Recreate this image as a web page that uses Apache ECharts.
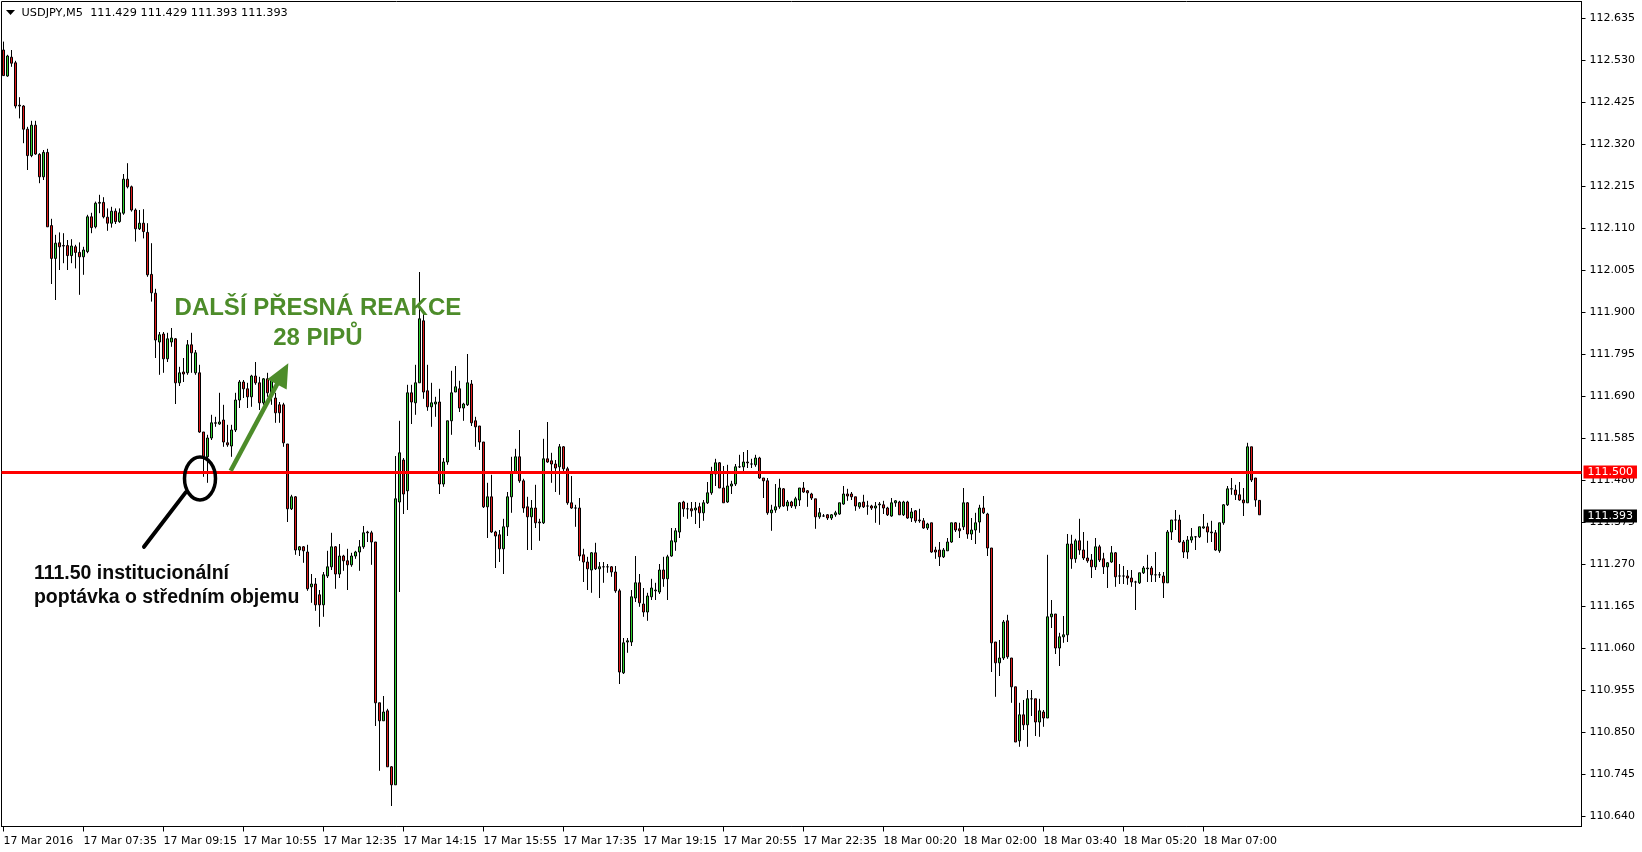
<!DOCTYPE html>
<html><head><meta charset="utf-8">
<script src="https://cdn.jsdelivr.net/npm/echarts@6/dist/echarts.min.js"></script>
<style>html,body{margin:0;padding:0;background:#fff}#chart{width:1642px;height:852px}</style>
</head><body><div id="chart"></div>
<script>
const symbolTitle = 'USDJPY,M5';
const tickLabels = ['17 Mar 2016','17 Mar 07:35','17 Mar 09:15','17 Mar 10:55','17 Mar 12:35','17 Mar 14:15','17 Mar 15:55','17 Mar 17:35','17 Mar 19:15','17 Mar 20:55','17 Mar 22:35','18 Mar 00:20','18 Mar 02:00','18 Mar 03:40','18 Mar 05:20','18 Mar 07:00'];
const priceTicks = [110.640,110.745,110.850,110.955,111.060,111.165,111.270,111.375,111.480,111.585,111.690,111.795,111.900,112.005,112.110,112.215,112.320,112.425,112.530,112.635];
const levelPrice = 111.500;

const openPrices = [
112.555,112.490,112.537,112.523,112.417,112.415,112.357,112.291,112.367,112.294,
112.238,112.299,112.116,112.034,112.073,112.066,112.066,112.041,112.063,112.049,
112.038,112.051,112.138,112.113,112.172,112.174,112.137,112.122,112.152,112.126,
112.147,112.232,112.213,112.155,112.108,112.122,112.099,111.994,111.947,111.825,
111.845,111.783,111.825,111.833,111.723,111.750,111.748,111.818,111.748,111.748,
111.600,111.538,111.585,111.623,111.620,111.630,111.573,111.565,111.605,111.680,
111.725,111.708,111.688,111.740,111.723,111.673,111.733,111.698,111.685,111.668,
111.668,111.570,111.408,111.438,111.305,111.313,111.300,111.213,111.220,111.193,
111.168,111.240,111.263,111.313,111.245,111.290,111.278,111.268,111.290,111.300,
111.313,111.350,111.348,111.325,110.923,110.878,110.903,110.763,110.718,111.425,
111.530,111.453,111.698,111.673,111.723,111.878,111.703,111.663,111.670,111.675,
111.470,111.525,111.628,111.700,111.708,111.660,111.668,111.720,111.628,111.615,
111.575,111.413,111.438,111.350,111.343,111.308,111.363,111.438,111.500,111.538,
111.478,111.413,111.388,111.410,111.375,111.373,111.533,111.528,111.520,111.513,
111.563,111.508,111.423,111.410,111.410,111.293,111.275,111.255,111.298,111.258,
111.263,111.263,111.263,111.250,111.203,110.998,111.075,111.075,111.185,111.223,
111.170,111.150,111.188,111.203,111.200,111.255,111.233,111.290,111.325,111.350,
111.425,111.408,111.408,111.405,111.413,111.398,111.423,111.448,111.495,111.523,
111.460,111.425,111.465,111.470,111.513,111.513,111.525,111.520,111.518,111.535,
111.485,111.478,111.398,111.405,111.413,111.458,111.415,111.425,111.415,111.430,
111.460,111.453,111.445,111.433,111.388,111.390,111.393,111.385,111.393,111.395,
111.420,111.445,111.445,111.438,111.413,111.425,111.415,111.415,111.410,111.418,
111.418,111.410,111.390,111.423,111.425,111.393,111.425,111.385,111.403,111.380,
111.378,111.360,111.373,111.305,111.305,111.288,111.303,111.325,111.373,111.358,
111.363,111.423,111.345,111.355,111.375,111.410,111.395,111.310,111.075,111.023,
111.035,111.128,111.035,110.963,110.828,110.893,110.868,110.933,110.933,110.875,
110.900,110.885,111.138,111.145,111.060,111.088,111.093,111.320,111.283,111.328,
111.305,111.285,111.280,111.263,111.313,111.283,111.263,111.275,111.298,111.240,
111.240,111.240,111.235,111.225,111.223,111.248,111.258,111.260,111.243,111.243,
111.240,111.223,111.350,111.380,111.380,111.325,111.300,111.330,111.338,111.338,
111.360,111.363,111.350,111.348,111.303,111.373,111.418,111.458,111.455,111.443,
111.430,111.423,111.563,111.485,111.429];

const closePrices = [
112.491,112.540,112.522,112.415,112.415,112.357,112.291,112.367,112.295,112.238,
112.299,112.113,112.034,112.072,112.063,112.065,112.041,112.065,112.049,112.038,
112.055,112.138,112.111,112.172,112.174,112.138,112.122,112.152,112.126,112.148,
112.232,112.213,112.155,112.108,112.122,112.101,111.993,111.948,111.830,111.843,
111.783,111.833,111.835,111.723,111.748,111.745,111.818,111.798,111.798,111.600,
111.538,111.585,111.623,111.622,111.625,111.575,111.568,111.605,111.680,111.725,
111.708,111.688,111.740,111.723,111.673,111.733,111.698,111.730,111.648,111.648,
111.573,111.408,111.438,111.305,111.313,111.303,111.208,111.220,111.168,111.168,
111.243,111.263,111.313,111.245,111.290,111.278,111.268,111.290,111.300,111.313,
111.348,111.348,111.325,110.923,110.878,110.900,110.763,110.718,111.433,111.548,
111.445,111.698,111.675,111.723,111.883,111.700,111.663,111.673,111.675,111.470,
111.525,111.628,111.698,111.713,111.660,111.670,111.723,111.623,111.613,111.575,
111.413,111.438,111.350,111.340,111.308,111.363,111.438,111.500,111.538,111.478,
111.410,111.388,111.410,111.373,111.373,111.533,111.525,111.520,111.510,111.563,
111.508,111.423,111.410,111.410,111.290,111.275,111.258,111.298,111.258,111.263,
111.263,111.263,111.250,111.203,111.000,111.073,111.078,111.188,111.223,111.173,
111.150,111.190,111.210,111.205,111.255,111.233,111.288,111.328,111.353,111.423,
111.408,111.408,111.403,111.410,111.398,111.423,111.448,111.495,111.523,111.460,
111.423,111.465,111.470,111.513,111.513,111.525,111.523,111.520,111.535,111.485,
111.478,111.398,111.405,111.413,111.460,111.415,111.425,111.415,111.433,111.460,
111.450,111.448,111.435,111.388,111.398,111.390,111.385,111.393,111.398,111.423,
111.445,111.440,111.438,111.415,111.423,111.413,111.415,111.410,111.415,111.420,
111.410,111.393,111.423,111.428,111.393,111.425,111.385,111.400,111.378,111.378,
111.360,111.370,111.300,111.300,111.288,111.305,111.325,111.373,111.355,111.353,
111.423,111.345,111.355,111.373,111.410,111.398,111.310,111.073,111.023,111.035,
111.125,111.038,110.963,110.825,110.893,110.868,110.933,110.933,110.875,110.903,
110.885,111.138,111.145,111.060,111.088,111.093,111.320,111.283,111.328,111.305,
111.285,111.278,111.263,111.313,111.280,111.263,111.273,111.298,111.238,111.240,
111.240,111.235,111.225,111.225,111.248,111.260,111.260,111.243,111.243,111.243,
111.223,111.350,111.380,111.380,111.325,111.300,111.330,111.338,111.338,111.363,
111.363,111.350,111.348,111.305,111.373,111.418,111.458,111.458,111.443,111.430,
111.423,111.563,111.480,111.430,111.393];

const lowPrices = [
112.490,112.488,112.513,112.409,112.384,112.322,112.255,112.287,112.293,112.222,
112.230,112.113,111.970,111.930,112.005,112.022,112.005,112.022,112.009,111.943,
111.993,112.047,112.097,112.109,112.147,112.134,112.103,112.111,112.120,112.123,
112.143,112.209,112.151,112.076,112.105,112.084,111.988,111.926,111.785,111.743,
111.748,111.775,111.813,111.670,111.715,111.725,111.743,111.748,111.743,111.598,
111.488,111.473,111.580,111.613,111.618,111.563,111.563,111.538,111.600,111.660,
111.685,111.660,111.663,111.718,111.655,111.668,111.688,111.668,111.623,111.623,
111.563,111.375,111.405,111.293,111.290,111.273,111.203,111.173,111.153,111.113,
111.138,111.235,111.255,111.208,111.235,111.253,111.205,111.263,111.283,111.253,
111.308,111.325,111.268,110.865,110.753,110.878,110.763,110.665,110.718,111.200,
111.395,111.405,111.620,111.643,111.723,111.683,111.653,111.613,111.638,111.445,
111.463,111.518,111.593,111.700,111.650,111.628,111.665,111.615,111.563,111.555,
111.410,111.335,111.348,111.260,111.275,111.245,111.340,111.398,111.498,111.473,
111.398,111.305,111.305,111.360,111.328,111.370,111.523,111.473,111.450,111.443,
111.500,111.418,111.408,111.363,111.278,111.225,111.205,111.198,111.255,111.185,
111.223,111.248,111.238,111.198,110.970,110.995,111.048,111.065,111.175,111.163,
111.138,111.128,111.180,111.180,111.195,111.213,111.180,111.288,111.303,111.335,
111.388,111.383,111.388,111.370,111.360,111.378,111.420,111.443,111.465,111.460,
111.423,111.423,111.445,111.465,111.510,111.500,111.510,111.510,111.513,111.483,
111.435,111.393,111.353,111.398,111.408,111.413,111.403,111.410,111.408,111.415,
111.448,111.413,111.430,111.358,111.383,111.388,111.380,111.380,111.388,111.393,
111.418,111.428,111.430,111.403,111.408,111.410,111.393,111.405,111.373,111.368,
111.395,111.390,111.388,111.413,111.393,111.390,111.383,111.375,111.373,111.373,
111.358,111.355,111.298,111.283,111.265,111.285,111.303,111.323,111.350,111.335,
111.355,111.333,111.330,111.320,111.348,111.395,111.290,111.000,110.938,110.990,
111.030,111.033,110.923,110.825,110.813,110.855,110.813,110.890,110.840,110.838,
110.863,110.885,111.110,111.045,111.015,111.073,111.075,111.258,111.273,111.293,
111.280,111.273,111.235,111.255,111.275,111.245,111.210,111.273,111.213,111.220,
111.220,111.218,111.213,111.155,111.220,111.245,111.225,111.225,111.225,111.235,
111.185,111.223,111.330,111.355,111.323,111.285,111.283,111.323,111.305,111.335,
111.358,111.323,111.325,111.303,111.298,111.368,111.415,111.443,111.430,111.428,
111.390,111.423,111.475,111.413,111.393];

const highPrices = [
112.576,112.543,112.555,112.528,112.437,112.417,112.363,112.378,112.378,112.297,
112.305,112.308,112.133,112.093,112.099,112.097,112.080,112.082,112.068,112.074,
112.063,112.143,112.148,112.176,112.193,112.187,112.159,112.163,112.159,112.159,
112.245,112.272,112.216,112.159,112.155,112.157,112.122,112.072,111.958,111.850,
111.850,111.848,111.860,111.835,111.763,111.785,111.830,111.848,111.805,111.768,
111.600,111.593,111.643,111.638,111.698,111.668,111.618,111.618,111.698,111.730,
111.730,111.723,111.743,111.775,111.738,111.735,111.748,111.735,111.698,111.675,
111.673,111.570,111.443,111.440,111.315,111.315,111.318,111.245,111.235,111.205,
111.250,111.303,111.348,111.315,111.320,111.293,111.308,111.298,111.303,111.330,
111.365,111.353,111.353,111.325,110.923,110.940,110.908,110.765,111.540,111.628,
111.535,111.718,111.718,111.768,112.000,111.895,111.768,111.723,111.688,111.708,
111.535,111.628,111.753,111.765,111.728,111.673,111.795,111.730,111.638,111.615,
111.575,111.473,111.493,111.353,111.355,111.383,111.450,111.538,111.558,111.605,
111.483,111.438,111.430,111.468,111.383,111.583,111.625,111.548,111.530,111.570,
111.565,111.513,111.490,111.418,111.435,111.308,111.288,111.300,111.323,111.275,
111.275,111.270,111.265,111.265,111.208,111.085,111.085,111.205,111.290,111.245,
111.210,111.198,111.233,111.223,111.270,111.288,111.293,111.360,111.360,111.425,
111.428,111.423,111.425,111.425,111.423,111.430,111.475,111.513,111.533,111.525,
111.515,111.518,111.478,111.520,111.543,111.550,111.555,111.533,111.543,111.538,
111.485,111.485,111.418,111.470,111.483,111.460,111.430,111.428,111.438,111.460,
111.475,111.455,111.448,111.433,111.410,111.395,111.395,111.395,111.403,111.423,
111.465,111.458,111.450,111.438,111.425,111.443,111.428,111.418,111.425,111.425,
111.428,111.413,111.435,111.430,111.428,111.428,111.428,111.410,111.405,111.408,
111.385,111.373,111.373,111.313,111.325,111.310,111.335,111.373,111.375,111.373,
111.460,111.425,111.385,111.398,111.418,111.440,111.398,111.310,111.075,111.080,
111.130,111.143,111.035,110.963,110.923,110.930,110.955,110.955,110.933,110.933,
110.905,111.293,111.180,111.145,111.098,111.140,111.345,111.343,111.333,111.383,
111.350,111.328,111.295,111.335,111.318,111.298,111.275,111.315,111.300,111.270,
111.265,111.255,111.255,111.228,111.248,111.265,111.293,111.265,111.300,111.250,
111.250,111.355,111.380,111.405,111.393,111.330,111.340,111.360,111.340,111.363,
111.395,111.373,111.378,111.355,111.373,111.420,111.465,111.485,111.468,111.475,
111.460,111.573,111.563,111.485,111.429];

// chart layout constants
const barsPerTick = 20;
const totalSlots = 395;          // visible bar slots (incl. empty right margin)
const yMin = 110.61375, yMax = 112.67625;

const categories = [];
for (let i = 0; i < totalSlots; i++) categories.push(String(i));
const candleData = openPrices.map((o, i) => [o, closePrices[i], lowPrices[i], highPrices[i]]);
const lastPrice = closePrices[closePrices.length - 1];
const lastBar = candleData[candleData.length - 1];
const headerText = symbolTitle + '  ' + [lastBar[0], lastBar[3], lastBar[2], lastBar[1]].map(v => v.toFixed(3)).join(' ');

const isTick = (idx) => idx % barsPerTick === 0 && idx / barsPerTick < tickLabels.length;
const FONT = 'DejaVu Sans';

const chart = echarts.init(document.getElementById('chart'), null, {renderer: 'canvas'});
chart.setOption({
  animation: false,
  backgroundColor: '#ffffff',
  grid: {left: 1.5, right: 60.5, top: 1.5, bottom: 25.5, show: true, borderColor: '#000', borderWidth: 1, backgroundColor: '#fff', containLabel: false},
  xAxis: {
    type: 'category', data: categories, boundaryGap: true,
    axisLine: {show: true, lineStyle: {color: '#000', width: 1}},
    axisTick: {show: true, alignWithLabel: true, length: 5, interval: isTick, lineStyle: {color: '#000'}},
    axisLabel: {show: true, interval: isTick, formatter: (v, idx) => tickLabels[idx / barsPerTick] || '', align: 'left', margin: 9, color: '#000', fontFamily: FONT, fontSize: 11},
    splitLine: {show: false}
  },
  yAxis: {
    type: 'value', position: 'right', min: yMin, max: yMax,
    axisLine: {show: true, lineStyle: {color: '#000'}},
    axisTick: {show: true, length: 4, customValues: priceTicks, lineStyle: {color: '#000'}},
    axisLabel: {customValues: priceTicks, formatter: v => Number(v).toFixed(3), margin: 8, color: '#000', fontFamily: FONT, fontSize: 11},
    splitLine: {show: false}
  },
  series: [{
    type: 'candlestick',
    data: candleData,
    barWidth: 2,
    itemStyle: {color: '#2fcf2f', color0: '#e01a1a', borderColor: '#000', borderColor0: '#000', borderColorDoji: '#000', borderWidth: 1},
    emphasis: {disabled: true},
    markLine: {
      silent: true, symbol: ['none', 'none'], animation: false,
      data: [
        {yAxis: levelPrice, lineStyle: {color: '#ff0000', width: 3, type: 'solid'},
          label: {show: true, position: 'end', distance: 2, formatter: levelPrice.toFixed(3), backgroundColor: '#ff0000', color: '#fff', fontFamily: FONT, fontSize: 11, lineHeight: 12, padding: [1, 4, 0, 4]}},
        {yAxis: lastPrice, lineStyle: {color: 'rgba(0,0,0,0)', width: 1, type: 'solid'},
          label: {show: true, position: 'end', distance: 2, formatter: lastPrice.toFixed(3), backgroundColor: '#000', color: '#fff', fontFamily: FONT, fontSize: 11, lineHeight: 12, padding: [1, 4, 0, 4]}}
      ]
    }
  }]
});

// annotation anchors in data space: [bar index, price]
const circleAnchor = [49.125, 111.484];
const pointerFrom = [45.55, 111.449];
const pointerTo = [35.125, 111.313];
const arrowTail = [56.8, 111.503];
const arrowTip = [71.2, 111.772];
const greenTextAnchor = [78.6, 111.909, 111.835];
const blackTextAnchor = [7.6, 111.246, 111.185];

const x0 = chart.convertToPixel({xAxisIndex: 0}, 0);
const x1 = chart.convertToPixel({xAxisIndex: 0}, 1);
const px = (a) => [x0 + (x1 - x0) * a[0], chart.convertToPixel({yAxisIndex: 0}, a[1])];
const yPx = (p) => chart.convertToPixel({yAxisIndex: 0}, p);

const cc = px(circleAnchor);
const pf = px(pointerFrom), pt = px(pointerTo);
const T = px(arrowTail), P = px(arrowTip);
const dx = P[0] - T[0], dy = P[1] - T[1], L = Math.hypot(dx, dy);
const ux = dx / L, uy = dy / L, nx = -uy, ny = ux;
const headLen = 24, headHalf = 11;
const B = [P[0] - ux * headLen, P[1] - uy * headLen];
const GREEN = '#4d8c2a';
const gtX = x0 + (x1 - x0) * greenTextAnchor[0];
const btX = x0 + (x1 - x0) * blackTextAnchor[0];

chart.setOption({
  graphic: [
    {type: 'polygon', z: 100, shape: {points: [[6, 10], [15, 10], [10.5, 15]]}, style: {fill: '#000'}},
    {type: 'text', z: 100, x: 21.5, y: 13.5, style: {text: headerText, font: '11.3px "DejaVu Sans"', fill: '#000', align: 'left', verticalAlign: 'middle', textAlign: 'left', textVerticalAlign: 'middle'}},
    {type: 'ellipse', z: 100, shape: {cx: cc[0], cy: cc[1], rx: 15.5, ry: 21.5}, style: {fill: 'none', stroke: '#000', lineWidth: 3.5}},
    {type: 'line', z: 100, shape: {x1: pf[0], y1: pf[1], x2: pt[0], y2: pt[1]}, style: {stroke: '#000', lineWidth: 4, lineCap: 'round'}},
    {type: 'line', z: 100, shape: {x1: T[0], y1: T[1], x2: B[0] + ux * 2, y2: B[1] + uy * 2}, style: {stroke: GREEN, lineWidth: 4.5}},
    {type: 'polygon', z: 100, shape: {points: [[P[0], P[1]], [B[0] + nx * headHalf, B[1] + ny * headHalf], [B[0] - nx * headHalf, B[1] - ny * headHalf]]}, style: {fill: GREEN}},
    {type: 'text', z: 100, x: gtX, y: yPx(greenTextAnchor[1]), style: {text: 'DALŠÍ PŘESNÁ REAKCE', font: 'bold 24px "Liberation Sans"', fill: GREEN, align: 'center', verticalAlign: 'middle', textAlign: 'center', textVerticalAlign: 'middle'}},
    {type: 'text', z: 100, x: gtX, y: yPx(greenTextAnchor[2]), style: {text: '28 PIPŮ', font: 'bold 24px "Liberation Sans"', fill: GREEN, align: 'center', verticalAlign: 'middle', textAlign: 'center', textVerticalAlign: 'middle'}},
    {type: 'text', z: 100, x: btX, y: yPx(blackTextAnchor[1]), style: {text: '111.50 institucionální', font: 'bold 19.5px "Liberation Sans"', fill: '#0a0a0a', align: 'left', verticalAlign: 'middle', textAlign: 'left', textVerticalAlign: 'middle'}},
    {type: 'text', z: 100, x: btX, y: yPx(blackTextAnchor[2]), style: {text: 'poptávka o středním objemu', font: 'bold 19.5px "Liberation Sans"', fill: '#0a0a0a', align: 'left', verticalAlign: 'middle', textAlign: 'left', textVerticalAlign: 'middle'}}
  ]
});
</script>
</body></html>
